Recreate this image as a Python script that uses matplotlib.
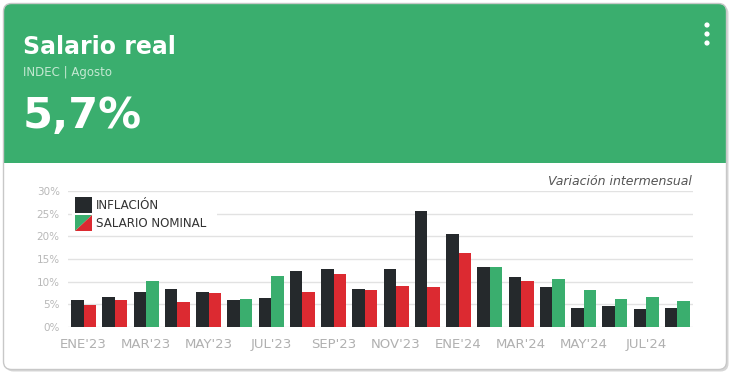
import numpy as np
import matplotlib
matplotlib.use("Agg")
import matplotlib.pyplot as plt
from matplotlib.patches import FancyBboxPatch, Rectangle, Polygon, Circle

# datos (variación mensual, %)
meses = ["ENE'23", "FEB'23", "MAR'23", "ABR'23", "MAY'23", "JUN'23", "JUL'23", "AGO'23",
         "SEP'23", "OCT'23", "NOV'23", "DIC'23", "ENE'24", "FEB'24", "MAR'24", "ABR'24",
         "MAY'24", "JUN'24", "JUL'24", "AGO'24"]
inflacion = [6.0, 6.6, 7.7, 8.4, 7.8, 6.0, 6.3, 12.4, 12.7, 8.3,
             12.8, 25.5, 20.6, 13.2, 11.0, 8.8, 4.2, 4.6, 4.0, 4.2]
salario_nominal = [4.8, 6.0, 10.1, 5.6, 7.4, 6.2, 11.2, 7.7, 11.6, 8.2,
                   9.1, 8.9, 16.4, 13.3, 10.1, 10.5, 8.1, 6.2, 6.6, 5.8]
yticks = [0, 5, 10, 15, 20, 25, 30]

VERDE = "#3aae6e"
ROJO = "#dc2a31"
NEGRO = "#25292c"

plt.rcParams['font.family'] = ['DejaVu Sans']

W, H = 730, 374
fig = plt.figure(figsize=(W / 100, H / 100), dpi=100)

# fondo de la tarjeta, en coordenadas de pixel
bg = fig.add_axes([0, 0, 1, 1], zorder=0)
bg.set_xlim(0, W)
bg.set_ylim(H, 0)
bg.axis('off')
bg.add_patch(FancyBboxPatch((5.5, 5.5), 723, 366, boxstyle="round,pad=0,rounding_size=8",
                            facecolor="#d6d6d6", edgecolor="none"))
bg.add_patch(FancyBboxPatch((3.5, 3.5), 723, 366, boxstyle="round,pad=0,rounding_size=8",
                            facecolor="white", edgecolor="none"))
bg.add_patch(FancyBboxPatch((3.5, 3.5), 723, 159.5, boxstyle="round,pad=0,rounding_size=8",
                            facecolor=VERDE, edgecolor="none"))
bg.add_patch(Rectangle((3.5, 100), 723, 63, facecolor=VERDE, edgecolor="none"))
bg.add_patch(FancyBboxPatch((3.5, 3.5), 723, 366, boxstyle="round,pad=0,rounding_size=8",
                            facecolor="none", edgecolor="#c8c8c8", lw=1))

bg.text(23, 54, "Salario real", color="white", fontsize=17, fontweight='bold')
bg.text(23, 76, "INDEC | Agosto", color="#c4e8d2", fontsize=8.5)
bg.text(23, 128, "5,7%", color="white", fontsize=31, fontweight='bold')
for yy in (25, 34, 43):
    bg.add_patch(Circle((707, yy), 2.6, facecolor="white", edgecolor="none"))
bg.text(692, 185, "Variación intermensual", color="#555555", fontsize=9,
        style='italic', ha='right')

# gráfico de barras
ax = fig.add_axes([68 / W, 47 / H, 625 / W, 136 / H], zorder=1)
ax.set_facecolor("none")
x = np.arange(len(meses))
colores = [VERDE if s > i else ROJO for s, i in zip(salario_nominal, inflacion)]
ax.bar(x - 0.2, inflacion, width=0.4, color=NEGRO, zorder=2)
ax.bar(x + 0.2, salario_nominal, width=0.4, color=colores, zorder=2)

ax.set_xlim(-0.5, len(meses) - 0.5)
ax.set_ylim(0, 30)
ax.set_yticks(yticks)
ax.set_yticklabels([f"{v}%" for v in yticks], color="#b8b8b8", fontsize=7.5)
ax.set_xticks(x[::2])
ax.set_xticklabels(meses[::2], color="#b0b0b0", fontsize=9.5)
ax.tick_params(length=0, pad=6)
ax.tick_params(axis='x', pad=8)
ax.grid(axis='y', color="#e2e2e2", lw=1, zorder=0)
for s in ax.spines.values():
    s.set_visible(False)

# leyenda
lg = fig.add_axes([0, 0, 1, 1], zorder=2)
lg.set_xlim(0, W)
lg.set_ylim(H, 0)
lg.axis('off')
lg.add_patch(Rectangle((72, 194), 145, 39, facecolor="white", edgecolor="none"))
lg.add_patch(Rectangle((75, 197), 17, 16, facecolor=NEGRO, edgecolor="none"))
lg.add_patch(Polygon([(75, 215), (92, 215), (75, 231)], facecolor=VERDE, edgecolor="none"))
lg.add_patch(Polygon([(92, 215), (92, 231), (75, 231)], facecolor=ROJO, edgecolor="none"))
lg.text(96, 205.5, "INFLACIÓN", color="#333333", fontsize=8.6, va='center')
lg.text(96, 223, "SALARIO NOMINAL", color="#333333", fontsize=8.6, va='center')

fig.savefig("out.png", dpi=100)
